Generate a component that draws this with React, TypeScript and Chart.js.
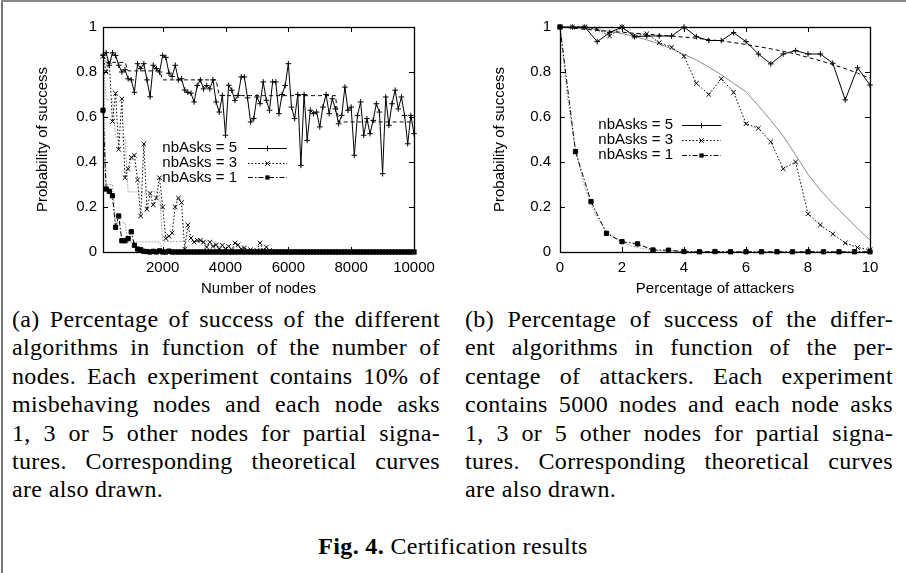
import React, { useEffect, useRef } from "react";
import { Chart, registerables } from "chart.js";
Chart.register(...registerables);

// ---------- Chart (a): number of nodes ----------
const NODES = [
  100, 200, 300, 400, 500, 600, 700, 800, 900, 1000,
  1100, 1200, 1300, 1400, 1500, 1600, 1700, 1800, 1900, 2000,
  2100, 2200, 2300, 2400, 2500, 2600, 2700, 2800, 2900, 3000,
  3100, 3200, 3300, 3400, 3500, 3600, 3700, 3800, 3900, 4000,
  4100, 4200, 4300, 4400, 4500, 4600, 4700, 4800, 4900, 5000,
  5100, 5200, 5300, 5400, 5500, 5600, 5700, 5800, 5900, 6000,
  6100, 6200, 6300, 6400, 6500, 6600, 6700, 6800, 6900, 7000,
  7100, 7200, 7300, 7400, 7500, 7600, 7700, 7800, 7900, 8000,
  8100, 8200, 8300, 8400, 8500, 8600, 8700, 8800, 8900, 9000,
  9100, 9200, 9300, 9400, 9500, 9600, 9700, 9800, 9900, 10000,
];

const EXP5_A = [
  0.874, 0.886, 0.83, 0.885, 0.874, 0.83, 0.8, 0.81, 0.77, 0.765,
  0.71, 0.837, 0.815, 0.837, 0.765, 0.69, 0.83, 0.815, 0.8, 0.874,
  0.865, 0.795, 0.78, 0.83, 0.765, 0.77, 0.72, 0.71, 0.706, 0.667,
  0.74, 0.765, 0.725, 0.74, 0.725, 0.765, 0.667, 0.622, 0.696, 0.519,
  0.741, 0.719, 0.674, 0.696, 0.778, 0.778, 0.685, 0.578, 0.593, 0.689,
  0.659, 0.756, 0.674, 0.63, 0.756, 0.756, 0.615, 0.7, 0.74, 0.837,
  0.644, 0.593, 0.7, 0.385, 0.7, 0.496, 0.63, 0.615, 0.622, 0.556,
  0.644, 0.7, 0.615, 0.681, 0.636, 0.57, 0.607, 0.733, 0.63, 0.644,
  0.43, 0.607, 0.667, 0.519, 0.593, 0.526, 0.585, 0.659, 0.622, 0.348,
  0.689, 0.563, 0.659, 0.719, 0.636, 0.689, 0.607, 0.481, 0.607, 0.526,
];

const EXP3_A = [
  0.87, 0.8, 0.845, 0.58, 0.705, 0.456, 0.68, 0.33, 0.37, 0.42,
  0.43, 0.32, 0.16, 0.48, 0.19, 0.26, 0.21, 0.24, 0.33, 0.2,
  0.06, 0.07, 0.085, 0.2, 0.24, 0.22, 0.013, 0.12, 0.062, 0.044,
  0.052, 0.052, 0.044, 0.022, 0.044, 0.025, 0.032, 0.013, 0.03, 0.013,
  0.025, 0.01, 0.04, 0.032, 0.013, 0.018, 0.007, 0.01, 0.003, 0.007,
  0.04, 0.007, 0.022, 0.007, 0, 0, 0, 0, 0, 0,
  0, 0, 0, 0, 0, 0, 0, 0, 0, 0,
  0, 0, 0, 0, 0, 0, 0, 0, 0, 0,
  0, 0, 0, 0, 0, 0, 0, 0, 0, 0,
  0, 0, 0, 0, 0, 0, 0, 0, 0, 0,
];

const EXP1_A = [
  0.63, 0.28, 0.27, 0.25, 0.11, 0.16, 0.05, 0.05, 0.06, 0.09,
  0.03, 0.013, 0.01, 0.003, 0.002, 0, 0.003, 0, 0.005, 0,
  0, 0.004, 0, 0, 0, 0, 0, 0, 0, 0,
  0, 0, 0, 0, 0, 0, 0, 0, 0, 0,
  0, 0, 0, 0, 0, 0, 0, 0, 0, 0,
  0, 0, 0, 0, 0, 0, 0, 0, 0, 0,
  0, 0, 0, 0, 0, 0, 0, 0, 0, 0,
  0, 0, 0, 0, 0, 0, 0, 0, 0, 0,
  0, 0, 0, 0, 0, 0, 0, 0, 0, 0,
  0, 0, 0, 0, 0, 0, 0, 0, 0, 0,
];

const TH5_A = [
  0.875, 0.843, 0.843, 0.843, 0.843, 0.843, 0.843, 0.843, 0.805, 0.805,
  0.805, 0.805, 0.805, 0.805, 0.805, 0.805, 0.805, 0.805, 0.805, 0.765,
  0.765, 0.765, 0.765, 0.765, 0.765, 0.765, 0.765, 0.765, 0.765, 0.765,
  0.765, 0.765, 0.765, 0.765, 0.765, 0.765, 0.765, 0.695, 0.695, 0.695,
  0.695, 0.695, 0.695, 0.695, 0.695, 0.695, 0.695, 0.695, 0.695, 0.695,
  0.695, 0.695, 0.695, 0.695, 0.695, 0.695, 0.695, 0.695, 0.695, 0.695,
  0.695, 0.695, 0.695, 0.695, 0.695, 0.695, 0.695, 0.695, 0.695, 0.695,
  0.695, 0.695, 0.695, 0.695, 0.695, 0.578, 0.578, 0.578, 0.578, 0.578,
  0.578, 0.578, 0.578, 0.578, 0.578, 0.578, 0.578, 0.578, 0.578, 0.578,
  0.578, 0.578, 0.578, 0.578, 0.578, 0.578, 0.578, 0.578, 0.578, 0.578,
];

const TH3_A = [
  0.87, 0.676, 0.676, 0.676, 0.511, 0.511, 0.511, 0.511, 0.267, 0.267,
  0.267, 0.267, 0.267, 0.267, 0.267, 0.267, 0.267, 0.267, 0.267, 0.047,
  0.047, 0.047, 0.047, 0.047, 0.047, 0.047, 0.047, 0.047, 0.047, 0.047,
  0.047, 0.047, 0.047, 0.047, 0.047, 0.047, 0.047, 0.008, 0.008, 0.008,
  0.008, 0.008, 0.008, 0.008, 0.008, 0.008, 0.008, 0.008, 0.008, 0.008,
  0.008, 0.008, 0.008, 0.008, 0.008, 0.008, 0.008, 0.008, 0.008, 0.008,
  0.008, 0.008, 0.008, 0.008, 0.008, 0.008, 0.008, 0.008, 0.008, 0.008,
  0.008, 0.008, 0.008, 0.008, 0.008, 0.002, 0.002, 0.002, 0.002, 0.002,
  0.002, 0.002, 0.002, 0.002, 0.002, 0.002, 0.002, 0.002, 0.002, 0.002,
  0.002, 0.002, 0.002, 0.002, 0.002, 0.002, 0.002, 0.002, 0.002, 0.002,
];

const TH1_A = [
  0.87, 0.3, 0.3, 0.3, 0.13, 0.13, 0.13, 0.13, 0.045, 0.045,
  0.045, 0.045, 0.045, 0.045, 0.045, 0.045, 0.045, 0.045, 0.045, 0.004,
  0.004, 0.004, 0.004, 0.004, 0.004, 0.004, 0.004, 0.004, 0.004, 0.004,
  0.004, 0.004, 0.004, 0.004, 0.004, 0.004, 0.004, 0, 0, 0,
  0, 0, 0, 0, 0, 0, 0, 0, 0, 0,
  0, 0, 0, 0, 0, 0, 0, 0, 0, 0,
  0, 0, 0, 0, 0, 0, 0, 0, 0, 0,
  0, 0, 0, 0, 0, 0, 0, 0, 0, 0,
  0, 0, 0, 0, 0, 0, 0, 0, 0, 0,
  0, 0, 0, 0, 0, 0, 0, 0, 0, 0,
];

const X_TICKS_A = [2000, 4000, 6000, 8000, 10000];

// ---------- Chart (b): percentage of attackers ----------
const ATT = [0, 0.4, 0.8, 1.2, 1.6, 2, 2.4, 2.8, 3.2, 3.6, 4, 4.4, 4.8, 5.2, 5.6, 6, 6.4, 6.8, 7.2, 7.6, 8, 8.4, 8.8, 9.2, 9.6, 10];
const EXP5_B = [1, 1, 1, 0.935, 0.975, 1, 0.957, 0.96, 0.96, 0.96, 1, 0.957, 0.94, 0.94, 0.975, 0.935, 0.88, 0.836, 0.88, 0.895, 0.88, 0.88, 0.839, 0.676, 0.819, 0.742];
const EXP3_B = [1, 1, 1, 0.99, 0.96, 1, 0.96, 0.97, 0.93, 0.91, 0.87, 0.75, 0.7, 0.77, 0.71, 0.57, 0.55, 0.49, 0.37, 0.4, 0.17, 0.12, 0.08, 0.04, 0.02, 0.01];
const TH5_B = [1, 0.995, 0.99, 0.985, 0.98, 0.977, 0.972, 0.968, 0.964, 0.96, 0.955, 0.95, 0.944, 0.938, 0.931, 0.922, 0.913, 0.903, 0.892, 0.88, 0.865, 0.85, 0.833, 0.815, 0.795, 0.772];
const TH3_B = [1, 0.998, 0.994, 0.989, 0.981, 0.971, 0.958, 0.943, 0.925, 0.903, 0.878, 0.853, 0.822, 0.788, 0.75, 0.712, 0.65, 0.585, 0.515, 0.432, 0.345, 0.275, 0.215, 0.16, 0.105, 0.053];
const ATT1 = [0, 0.5, 1, 1.5, 2, 2.5, 3, 3.5, 4, 4.5, 5, 5.5, 6, 6.5, 7, 7.5, 8, 8.5, 9, 9.5, 10];
const EXP1_B = [1, 0.446, 0.224, 0.083, 0.046, 0.036, 0.009, 0.008, 0.002, 0.001, 0.002, 0.001, 0.001, 0.001, 0.001, 0.001, 0.001, 0.001, 0.001, 0.001, 0.001];
const ATT_T1 = [0, 0.25, 0.5, 0.75, 1, 1.25, 1.5, 1.75, 2, 2.25, 2.5, 2.75, 3, 3.5, 4, 5, 6, 8, 10];
const TH1_B = [1, 0.68, 0.46, 0.31, 0.21, 0.14, 0.095, 0.064, 0.043, 0.029, 0.02, 0.013, 0.009, 0.004, 0.002, 0.0005, 0, 0, 0];
const X_TICKS_B = [0, 2, 4, 6, 8, 10];

const Y_TICKS = [0, 0.2, 0.4, 0.6, 0.8, 1];
const LEGEND_LABELS = ["nbAsks = 5", "nbAsks = 3", "nbAsks = 1"];

const CAPTION_A = [
  "(a) Percentage of success of the different",
  "algorithms in function of the number of",
  "nodes. Each experiment contains 10% of",
  "misbehaving nodes and each node asks",
  "1, 3 or 5 other nodes for partial signa-",
  "tures. Corresponding theoretical curves",
  "are also drawn.",
];
const CAPTION_B = [
  "(b) Percentage of success of the differ-",
  "ent algorithms in function of the per-",
  "centage of attackers. Each experiment",
  "contains 5000 nodes and each node asks",
  "1, 3 or 5 other nodes for partial signa-",
  "tures. Corresponding theoretical curves",
  "are also drawn.",
];

const SANS = "'Liberation Sans', Arial, Helvetica, sans-serif";
const SERIF = "'Liberation Serif', 'Times New Roman', serif";

const pts = (xs: number[], ys: number[]) => ys.map((y, i) => ({ x: xs[i], y }));

const STYLE5 = { borderColor: "#000", borderWidth: 1, borderDash: [] as number[], pointStyle: "cross", pointRadius: 2.8, pointBorderWidth: 1, pointBorderColor: "#000", pointBackgroundColor: "#000" };
const STYLE3 = { borderColor: "#000", borderWidth: 1, borderDash: [1.5, 2], pointStyle: "crossRot", pointRadius: 3.2, pointBorderWidth: 1, pointBorderColor: "#000", pointBackgroundColor: "#000" };
const STYLE1 = { borderColor: "#000", borderWidth: 1, borderDash: [5, 2, 1.5, 2], pointStyle: "rect", pointRadius: 3, pointBorderWidth: 1, pointBorderColor: "#000", pointBackgroundColor: "#000" };

function drawMarker(ctx: CanvasRenderingContext2D, style: string, x: number, y: number, r: number) {
  ctx.beginPath();
  ctx.setLineDash([]);
  if (style === "cross") {
    ctx.moveTo(x - r, y); ctx.lineTo(x + r, y);
    ctx.moveTo(x, y - r); ctx.lineTo(x, y + r);
    ctx.stroke();
  } else if (style === "crossRot") {
    const d = r * Math.SQRT1_2;
    ctx.moveTo(x - d, y - d); ctx.lineTo(x + d, y + d);
    ctx.moveTo(x - d, y + d); ctx.lineTo(x + d, y - d);
    ctx.stroke();
  } else if (style === "rect") {
    const s = r * Math.SQRT1_2;
    ctx.fillRect(x - s, y - s, 2 * s, 2 * s);
  }
}

const decorPlugin = {
  id: "gnuDecor",
  afterDraw(chart: any, _args: any, opts: any) {
    const { ctx, chartArea: a, scales } = chart;
    ctx.save();
    const L = Math.round(a.left), R = Math.round(a.right), T = Math.round(a.top), B = Math.round(a.bottom);
    ctx.strokeStyle = "#000";
    ctx.lineWidth = 1;
    ctx.setLineDash([]);
    // inward ticks on all four sides
    const tl = 5;
    ctx.beginPath();
    scales.x.ticks.forEach((t: any) => {
      const px = Math.round(scales.x.getPixelForValue(t.value)) + 0.5;
      if (px <= L + 1 || px >= R - 1) return;
      ctx.moveTo(px, B); ctx.lineTo(px, B - tl);
      ctx.moveTo(px, T); ctx.lineTo(px, T + tl);
    });
    scales.y.ticks.forEach((t: any) => {
      const py = Math.round(scales.y.getPixelForValue(t.value)) + 0.5;
      if (py <= T + 1 || py >= B - 1) return;
      ctx.moveTo(L, py); ctx.lineTo(L + tl, py);
      ctx.moveTo(R, py); ctx.lineTo(R - tl, py);
    });
    ctx.stroke();
    // border
    ctx.lineWidth = 1.3;
    ctx.strokeRect(L + 0.5, T + 0.5, R - L, B - T);

    // axis titles
    ctx.fillStyle = "#000";
    ctx.font = `15px ${SANS}`;
    ctx.textAlign = "center";
    ctx.textBaseline = "middle";
    ctx.fillText(opts.xTitle, (a.left + a.right) / 2, opts.xTitleY);
    ctx.save();
    ctx.translate(opts.yTitleX, (a.top + a.bottom) / 2);
    ctx.rotate(-Math.PI / 2);
    ctx.fillText(opts.yTitle, 0, 0);
    ctx.restore();

    // key
    const lg = opts.legend;
    lg.labels.forEach((label: string, i: number) => {
      const ds = chart.data.datasets[i];
      const y = lg.top + i * lg.rowGap;
      ctx.fillStyle = "#000";
      ctx.textAlign = "right";
      ctx.fillText(label, lg.textRight, y);
      ctx.strokeStyle = ds.borderColor;
      ctx.lineWidth = ds.borderWidth;
      ctx.setLineDash(ds.borderDash || []);
      ctx.beginPath();
      ctx.moveTo(lg.x1, Math.round(y) + 0.5);
      ctx.lineTo(lg.x2, Math.round(y) + 0.5);
      ctx.stroke();
      ctx.lineWidth = 1;
      drawMarker(ctx, ds.pointStyle, (lg.x1 + lg.x2) / 2, Math.round(y) + 0.5, ds.pointRadius);
    });
    ctx.restore();
  },
};

function makeConfig(p: any) {
  return {
    type: "line",
    data: { datasets: p.datasets },
    plugins: [decorPlugin],
    options: {
      animation: false,
      responsive: false,
      maintainAspectRatio: false,
      events: [],
      layout: { padding: { left: 0, top: p.top, right: p.right, bottom: 0 } },
      elements: { line: { tension: 0 } },
      plugins: {
        legend: { display: false },
        tooltip: { enabled: false },
        gnuDecor: p.decor,
      },
      scales: {
        x: {
          type: "linear",
          min: p.xMin,
          max: p.xMax,
          afterBuildTicks: (s: any) => { s.ticks = p.xTicks.map((v: number) => ({ value: v })); },
          afterFit: (s: any) => { s.height = p.xAxisHeight; },
          grid: { display: false, drawTicks: false },
          border: { display: false },
          ticks: { color: "#000", font: { family: SANS, size: 15 }, padding: 7, maxRotation: 0, autoSkip: false, callback: (v: any) => String(v) },
        },
        y: {
          type: "linear",
          min: 0,
          max: 1,
          afterBuildTicks: (s: any) => { s.ticks = Y_TICKS.map((v) => ({ value: v })); },
          afterFit: (s: any) => { s.width = p.yAxisWidth; },
          grid: { display: false, drawTicks: false },
          border: { display: false },
          ticks: { color: "#000", font: { family: SANS, size: 15 }, padding: p.yPad, autoSkip: false, callback: (v: any) => String(v) },
        },
      },
    },
  };
}

function ChartCanvas({ config, left }: { config: any; left: number }) {
  const ref = useRef<HTMLCanvasElement | null>(null);
  useEffect(() => {
    if (!ref.current) return;
    const chart = new Chart(ref.current, config);
    return () => chart.destroy();
  }, [config]);
  return (
    <canvas
      ref={ref}
      width={453}
      height={300}
      style={{ position: "absolute", left, top: 0, width: 453, height: 300 }}
    />
  );
}

const configA = makeConfig({
  top: 27, right: 39, xMin: 100, xMax: 10000, xTicks: X_TICKS_A, xAxisHeight: 48, yAxisWidth: 103, yPad: 6,
  datasets: [
    { label: "nbAsks = 5", data: pts(NODES, EXP5_A), ...STYLE5, clip: false },
    { label: "nbAsks = 3", data: pts(NODES, EXP3_A), ...STYLE3, clip: false },
    { label: "nbAsks = 1", data: pts(NODES, EXP1_A), ...STYLE1, clip: false },
    { label: "theory 5", data: pts(NODES, TH5_A), borderColor: "#000", borderWidth: 1, borderDash: [4, 3], pointRadius: 0 },
    { label: "theory 3", data: pts(NODES, TH3_A), borderColor: "#9a9a9a", borderWidth: 1, borderDash: [1.5, 1.5], pointRadius: 0 },
    { label: "theory 1", data: pts(NODES, TH1_A), borderColor: "#9a9a9a", borderWidth: 1, borderDash: [1.5, 1.5], pointRadius: 0 },
  ],
  decor: {
    xTitle: "Number of nodes", xTitleY: 289, yTitle: "Probability of success", yTitleX: 43,
    legend: { labels: LEGEND_LABELS, textRight: 237, x1: 248, x2: 287, top: 148, rowGap: 14.7 },
  },
});

const configB = makeConfig({
  top: 27, right: 36, xMin: 0, xMax: 10, xTicks: X_TICKS_B, xAxisHeight: 48, yAxisWidth: 107, yPad: 9,
  datasets: [
    { label: "nbAsks = 5", data: pts(ATT, EXP5_B), ...STYLE5, clip: false },
    { label: "nbAsks = 3", data: pts(ATT, EXP3_B), ...STYLE3, clip: false },
    { label: "nbAsks = 1", data: pts(ATT1, EXP1_B), ...STYLE1, clip: false },
    { label: "theory 5", data: pts(ATT, TH5_B), borderColor: "#000", borderWidth: 1, borderDash: [4, 3], pointRadius: 0 },
    { label: "theory 3", data: pts(ATT, TH3_B), borderColor: "#8c8c8c", borderWidth: 1, borderDash: [], pointRadius: 0 },
    { label: "theory 1", data: pts(ATT_T1, TH1_B), borderColor: "#9a9a9a", borderWidth: 1, borderDash: [1.5, 1.5], pointRadius: 0 },
  ],
  decor: {
    xTitle: "Percentage of attackers", xTitleY: 289, yTitle: "Probability of success", yTitleX: 47,
    legend: { labels: LEGEND_LABELS, textRight: 220, x1: 229, x2: 268, top: 125, rowGap: 15 },
  },
});

const LINE_H = 28.4;

function Caption({ lines, left }: { lines: string[]; left: number }) {
  return (
    <>
      {lines.map((t, i) => (
        <div
          key={i}
          style={{
            position: "absolute",
            left,
            top: 305 + i * LINE_H,
            width: 428,
            height: LINE_H,
            lineHeight: `${LINE_H}px`,
            fontFamily: SERIF,
            fontSize: 24,
            letterSpacing: "0.35px",
            color: "#000",
            textAlign: "justify",
            textAlignLast: i < lines.length - 1 ? "justify" : "left",
            whiteSpace: "nowrap",
          } as React.CSSProperties}
        >
          {t}
        </div>
      ))}
    </>
  );
}

export default function App() {
  return (
    <div style={{ position: "absolute", left: 0, top: 0, width: 906, height: 573, background: "#fff", overflow: "hidden" }}>
      <div style={{ position: "absolute", left: 1, top: 0, width: 2, height: 573, background: "#777" }} />
      <div style={{ position: "absolute", left: 1, top: 0, width: 905, height: 2, background: "#888" }} />
      <ChartCanvas config={configA} left={0} />
      <ChartCanvas config={configB} left={453} />
      <Caption lines={CAPTION_A} left={12} />
      <Caption lines={CAPTION_B} left={465} />
      <div
        style={{
          position: "absolute",
          left: 0,
          width: 906,
          top: 532,
          lineHeight: "28px",
          textAlign: "center",
          fontFamily: SERIF,
          fontSize: 24,
          letterSpacing: "0.35px",
          color: "#000",
        }}
      >
        <b>Fig. 4.</b> Certification results
      </div>
    </div>
  );
}
